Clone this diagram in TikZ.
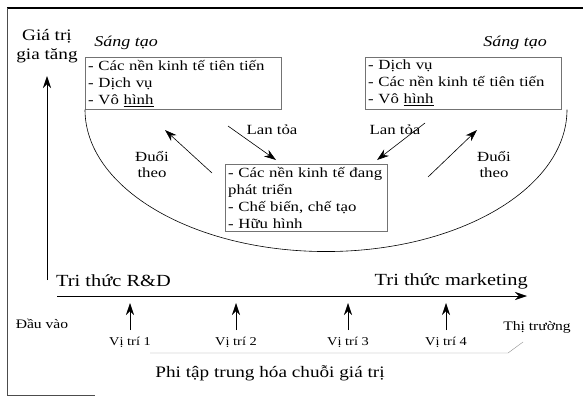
\documentclass[tikz,border=0pt]{standalone}
\usepackage{fontspec}
\setmainfont[FakeStretch=1.2]{Liberation Serif}
\usetikzlibrary{arrows.meta}

\tikzset{
  arw/.style={-{Stealth[length=12pt,width=8pt]}, line width=0.6pt},
  itembox/.style={draw=black!55, thin, align=left, inner sep=3pt,
    font=\fontsize{14}{17}\selectfont},
  lbl/.style={font=\fontsize{14}{16}\selectfont, align=center, inner sep=1pt},
  loclbl/.style={font=\fontsize{12}{14}\selectfont, inner sep=1pt},
}

\begin{document}
\begin{tikzpicture}[x=1pt, y=-1pt]
		\useasboundingbox (0,0) rectangle (583,397);

		% Page frame
		\draw[line width=1.1pt] (7,8) -- (583,8);
		\draw[black!70, line width=0.7pt] (7,8) -- (7,395) -- (95,395);

		% Value axis
		\node[lbl, font=\fontsize{16}{19}\selectfont] (value) at (47,46) {Giá trị\\gia tăng};
		\coordinate (vbase) at (47,280);
		\coordinate (vtop) at (47,76);
		\draw[arw] (vbase) -- (vtop);

		% Boxes at the top
		\node[font=\fontsize{15}{17}\selectfont\itshape] (innovl) at (126,43) {Sáng tạo};
		\node[font=\fontsize{15}{17}\selectfont\itshape] (innovr) at (515,43) {Sáng tạo};
		\node[itembox, anchor=north west, text width=190pt] (advl) at (85,57)
			{- Các nền kinh tế tiên tiến\\- Dịch vụ\\- Vô \underline{hình}};
		\node[itembox, anchor=north west, text width=190pt] (advr) at (365,57)
			{- Dịch vụ\\- Các nền kinh tế tiên tiến\\- Vô \underline{hình}};

		% Half ellipse
		\draw[line width=0.6pt] (advl.south west) arc[start angle=180, end angle=360, x radius=241pt, y radius=142pt];

		% Box in the middle
		\node[itembox, anchor=north west, text width=156pt] (devel) at (225,164)
			{- Các nền kinh tế đang\\phát triển\\- Chế biến, chế tạo\\- Hữu hình};

		% Spreading and catching up
		\node[lbl] (spreadl) at (272,130) {Lan tỏa};
		\node[lbl] (spreadr) at (395,130) {Lan tỏa};
		\node[lbl] (catchl) at (152,164) {Đuổi\\theo};
		\node[lbl] (catchr) at (494,164) {Đuổi\\theo};
		\coordinate (sl0) at (228,126);
		\coordinate (sl1) at (276,160);
		\coordinate (sr0) at (425,123);
		\coordinate (sr1) at (377,160);
		\coordinate (cl0) at (212,173);
		\coordinate (cl1) at (165,130);
		\coordinate (cr0) at (428,177);
		\coordinate (cr1) at (477,130);
		\draw[arw] (sl0) -- (sl1);
		\draw[arw] (sr0) -- (sr1);
		\draw[arw] (cl0) -- (cl1);
		\draw[arw] (cr0) -- (cr1);

		% Knowledge axis
		\node[lbl, anchor=west, font=\fontsize{17}{19}\selectfont] (rnd) at (55,281) {Tri thức R\&D};
		\node[lbl, anchor=east, font=\fontsize{17}{19}\selectfont] (mkt) at (529,281) {Tri thức marketing};
		\coordinate (hbase) at (57,296);
		\coordinate (htip) at (527,296);
		\draw[arw] (hbase) -- (htip);
		\node[loclbl, font=\fontsize{13}{15}\selectfont] (input) at (42,324) {Đầu vào};
		\node[loclbl, font=\fontsize{13}{15}\selectfont] (market) at (537,327) {Thị trường};

		% Locations
		\foreach \x/\n in {130/1, 236/2, 348/3, 446/4} {
			\node[loclbl] (loc\n) at (\x,342) {Vị trí \n};
			\draw[arw] (\x,330) -- (\x,303);
		}

		% Bottom line and caption
		\draw[black!45, thin] (150,353) -- (508,353) -- (523,342);
		\node[lbl, font=\fontsize{16}{18}\selectfont] (decent) at (270,373) {Phi tập trung hóa chuỗi giá trị};
	\end{tikzpicture}
\end{document}
